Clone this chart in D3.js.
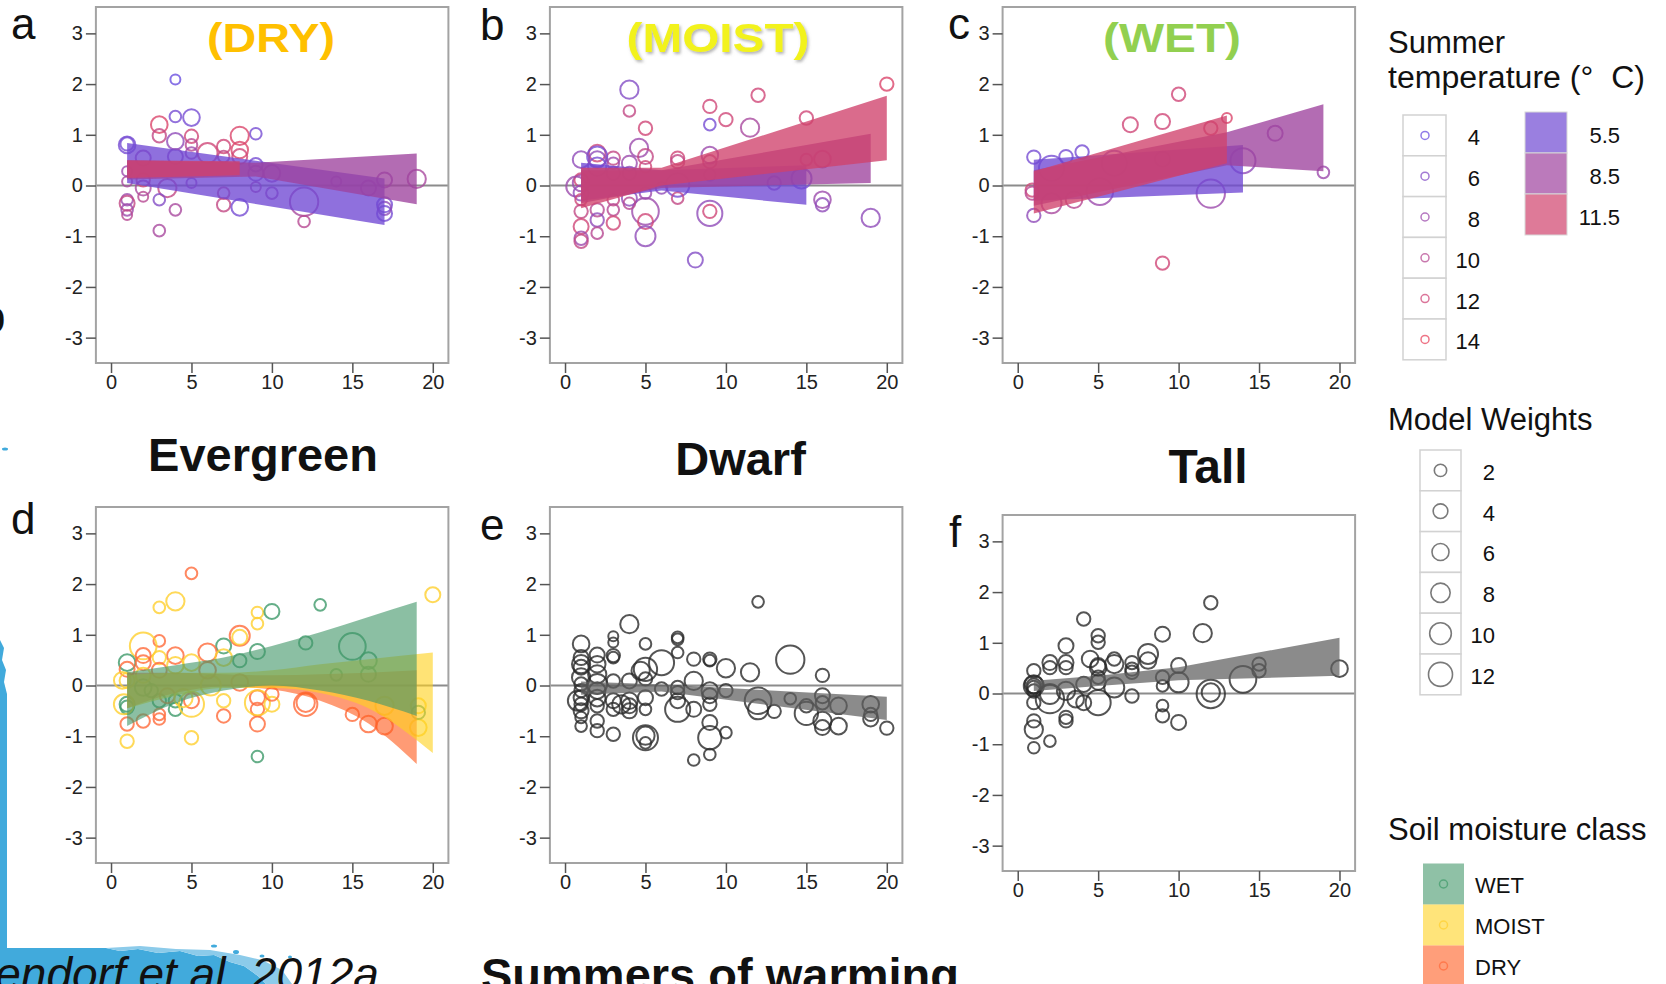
<!DOCTYPE html>
<html>
<head>
<meta charset="utf-8">
<script src="https://cdn.jsdelivr.net/npm/d3@7"></script>
<style>
  html, body { margin: 0; padding: 0; background: #fff; }
  svg { display: block; font-family: "Liberation Sans", Arial, sans-serif; }
</style>
</head>
<body>
<svg id="fig" width="1666" height="984"></svg>
<script>
// ---- tick labels ----
const xTicks = [0, 5, 10, 15, 20];
const yTicks = [-3, -2, -1, 0, 1, 2, 3];

// ---- legend keys ----
const tempLegend = [4, 6, 8, 10, 12, 14];
const bandTemps = [5.5, 8.5, 11.5];
const weightLegend = [2, 4, 6, 8, 10, 12];
const moistClasses = ["WET", "MOIST", "DRY"];

// ---- evergreen by soil moisture: [summers, effect, model weight, summer temp] ----
const dryPts = [
  [4.0,2.09,0,4],[4.0,1.36,1.4,5],[5.0,1.34,5.7,5],[3.0,1.2,5.7,13],[3.0,0.98,2.9,11],
  [9.0,1.02,1.4,5],[8.0,0.98,7.1,13],[5.0,0.97,2.9,12],[4.0,0.87,5.7,7],[1.0,0.8,5.7,5],
  [1.0,0.82,2.9,5],[5.0,0.8,1.4,10],[7.0,0.77,2.9,12],[6.0,0.64,8.6,12],[8.0,0.70,5.7,13],
  [8.0,0.57,4.3,12],[5.0,0.64,1.4,8],[2.0,0.54,4.3,8],[4.0,0.57,4.3,7],[7.0,0.57,1.4,11],
  [9.0,0.41,2.9,5],[9.0,0.24,4.3,7],[10.0,0.24,5.7,8],[1.0,0.28,0,8],[1.0,0.08,0,9],
  [2.0,0.11,2.9,12],[2.0,-0.05,4.3,9],[3.5,-0.05,7.1,11],[5.0,0.05,0,8],[14.0,0.08,0,8],
  [16.0,-0.05,4.3,8],[17.0,0.11,4.3,8],[19.0,0.13,7.1,9],[12.0,-0.32,15.7,9],[12.0,-0.71,1.4,10],
  [10.0,-0.15,1.4,8],[9.0,-0.03,0,9],[7.0,-0.15,1.4,11],[7.0,-0.38,2.9,11],[8.0,-0.43,5.7,5],
  [3.0,-0.28,1.4,6],[4.0,-0.48,1.4,9],[3.0,-0.89,1.4,9],[1.0,-0.28,1.4,8],[1.0,-0.35,4.3,11],
  [1.0,-0.48,1.4,8],[1.0,-0.58,0,10],[2.0,-0.22,0,10],[17.0,-0.38,4.3,5],[17.0,-0.55,4.3,5],
  [17.0,-0.45,2.9,7]
];
const moistPts = [
  [20.0,2.0,2.9,13],[4.0,1.89,7.1,6],[4.0,1.47,1.4,11],[12.0,1.78,2.9,12],[9.0,1.56,2.9,12],
  [5.0,1.13,2.9,12],[9.0,1.2,1.4,5],[10.0,1.3,2.9,12],[11.5,1.14,7.1,9],[15.0,1.33,2.9,12],
  [16.0,0.52,5.7,12],[15.0,0.51,1.4,12],[14.7,0.14,8.6,5],[13.0,0.05,2.9,7],[16.0,-0.28,5.7,8],
  [16.0,-0.38,2.9,7],[19.0,-0.64,7.1,7],[9.0,0.6,5.7,8],[9.0,0.47,2.9,11],[9.0,0.21,1.4,8],
  [9.0,-0.55,12.9,7],[9.0,-0.51,2.9,12],[7.0,0.54,2.9,12],[7.0,0.47,2.9,11],[7.0,0.01,11.4,5],
  [7.0,-0.25,1.4,11],[6.0,-0.05,1.4,7],[4.6,0.74,7.1,8],[5.0,0.57,4.3,11],[5.0,0.37,1.4,12],
  [5.0,-0.15,1.4,8],[5.0,-0.51,14.3,8],[5.0,-0.71,4.3,12],[5.0,-1.0,8.6,7],[4.0,0.44,4.3,8],
  [4.0,-0.25,4.3,7],[4.0,-0.35,1.4,10],[3.0,0.54,2.9,11],[3.0,0.44,1.4,8],[3.0,0.24,2.9,9],
  [3.0,-0.28,1.4,11],[3.0,-0.48,1.4,10],[3.0,-0.74,2.9,12],[2.0,0.64,5.7,12],[2.0,0.57,8.6,5],
  [2.0,0.51,5.7,7],[2.0,0.37,7.1,5],[2.0,-0.48,2.9,10],[2.0,-0.68,2.9,7],[2.0,-0.94,1.4,10],
  [1.0,0.51,5.7,7],[1.0,0.05,5.7,8],[1.0,0.11,2.9,12],[0.7,-0.02,8.6,8],[1.0,-0.15,4.3,7],
  [1.0,-0.28,1.4,12],[1.0,-0.51,2.9,11],[1.0,-0.81,4.3,12],[1.0,-1.04,2.9,8],[1.0,-1.1,2.9,11],
  [8.1,-1.47,4.3,6],[4.0,0.24,2.9,7]
];
const wetPts = [
  [10.0,1.8,2.9,12],[7.0,1.2,4.3,12],[9.0,1.26,4.3,12],[13.0,1.33,0,13],[12.0,1.13,2.9,12],
  [16.0,1.03,4.3,8],[19.0,0.26,1.4,8],[14.0,0.49,12.9,7],[12.0,-0.16,15.7,8],[9.0,0.52,4.3,9],
  [6.0,0.44,12.9,6],[5.1,-0.12,14.3,8],[4.0,0.66,2.9,5],[3.0,0.57,2.9,5],[3.5,-0.28,5.7,10],
  [2.1,0.34,12.9,5],[2.1,-0.35,8.6,9],[1.0,0.56,2.9,5],[0.9,-0.09,2.9,12],[0.9,-0.15,2.9,10],
  [1.0,-0.59,2.9,7],[9.0,-1.53,2.9,12]
];

// fitted intervals at 5.5 / 8.5 / 11.5 °C: summers, lower, upper
const dryBands = [
  { t: 5.5,  x: [1, 17],    lo: [0.05, -0.78],      hi: [0.84, 0.14] },
  { t: 8.5,  x: [1, 9, 19], lo: [0.12, 0.18, -0.37], hi: [0.5, 0.45, 0.63] },
  { t: 11.5, x: [1, 8],     lo: [0.15, 0.2],        hi: [0.5, 0.48] }
];
const moistBands = [
  { t: 5.5,  x: [1, 6, 15], lo: [-0.3, -0.1, -0.38], hi: [0.45, 0.3, 0.4] },
  { t: 8.5,  x: [1, 6, 19], lo: [-0.35, -0.05, 0.05], hi: [0.3, 0.3, 1.02] },
  { t: 11.5, x: [1, 6, 20], lo: [-0.45, 0.0, 0.5],   hi: [0.35, 0.35, 1.77] }
];
const wetBands = [
  { t: 5.5,  x: [1, 14],     lo: [-0.3, -0.14],      hi: [0.51, 0.8] },
  { t: 8.5,  x: [1, 13, 19], lo: [-0.4, 0.4, 0.28],  hi: [0.3, 1.05, 1.6] },
  { t: 11.5, x: [1, 13],     lo: [-0.55, 0.44],      hi: [0.28, 1.38] }
];

// ---- growth forms: [summers, effect, model weight(, soil class)] ----
const evergreenPts = [
  [5.0,2.21,1.4,"DRY"],[4.0,1.66,7.1,"MOIST"],[3.0,1.54,1.4,"MOIST"],[9.1,1.44,1.4,"MOIST"],
  [9.1,1.22,1.4,"MOIST"],[10.0,1.46,4.3,"WET"],[13.0,1.59,1.4,"WET"],[20.0,1.79,4.3,"MOIST"],
  [3.0,0.88,1.4,"DRY"],[2.0,0.78,14.3,"MOIST"],[2.0,0.59,4.3,"DRY"],[8.0,0.98,8.6,"DRY"],
  [8.0,0.95,4.3,"MOIST"],[12.1,0.84,2.9,"WET"],[15.0,0.77,14.3,"WET"],[16.0,0.49,5.7,"WET"],
  [14.0,0.21,1.4,"WET"],[16.0,0.22,4.3,"WET"],[9.1,0.67,4.3,"WET"],[7.0,0.78,4.3,"WET"],
  [6.0,0.65,7.1,"DRY"],[8.0,0.49,2.9,"WET"],[1.0,0.45,5.7,"WET"],[1.0,0.32,4.3,"DRY"],
  [4.0,0.59,5.7,"DRY"],[5.0,0.45,5.7,"MOIST"],[3.0,0.55,2.9,"MOIST"],[1.0,-0.37,4.3,"WET"],
  [1.0,-0.43,2.9,"WET"],[1.0,-0.76,2.9,"DRY"],[1.0,-1.1,2.9,"MOIST"],[0.8,-0.37,8.6,"MOIST"],
  [2.0,-0.7,2.9,"DRY"],[3.0,-0.3,2.9,"WET"],[3.0,-0.57,1.4,"DRY"],[3.0,-0.66,1.4,"DRY"],
  [4.0,-0.3,2.9,"WET"],[4.0,-0.47,2.9,"WET"],[5.0,-0.37,12.9,"MOIST"],[5.0,-0.3,4.3,"DRY"],
  [5.0,-1.03,2.9,"MOIST"],[7.0,-0.3,2.9,"MOIST"],[7.0,-0.6,2.9,"DRY"],[9.1,-0.24,4.3,"DRY"],
  [9.1,-0.47,2.9,"DRY"],[9.1,-0.76,4.3,"DRY"],[9.1,-0.34,12.9,"MOIST"],[9.1,-1.4,1.4,"WET"],
  [10.0,-0.37,4.3,"MOIST"],[10.0,-0.17,2.9,"DRY"],[12.1,-0.34,7.1,"DRY"],[12.1,-0.37,11.4,"DRY"],
  [16.0,-0.76,5.7,"DRY"],[17.0,-0.8,5.7,"DRY"],[17.0,-0.4,7.1,"MOIST"],[19.1,-0.4,4.3,"MOIST"],
  [19.1,-0.83,5.7,"MOIST"],[19.1,-0.53,2.9,"WET"],[15.0,-0.57,2.9,"DRY"],[6.2,0.0,8.6,"MOIST"],
  [2.0,-0.04,5.7,"WET"],[8.0,0.06,5.7,"DRY"],[2.0,0.45,4.3,"DRY"],[3.0,0.3,4.3,"DRY"],
  [4.0,0.4,5.7,"MOIST"],[1.0,0.1,4.3,"MOIST"],[2.0,0.2,4.3,"MOIST"],[6.0,0.3,5.7,"DRY"],
  [7.0,0.55,5.7,"MOIST"],[3.5,-0.2,4.3,"DRY"],[4.5,-0.25,7.1,"MOIST"],[0.7,0.1,5.7,"MOIST"],
  [2.5,-0.1,2.9,"WET"]
];
const evergreenBands = [
  { c: "DRY",   x: [1, 4, 7, 10, 13, 16, 19], lo: [-0.45, -0.15, -0.02, -0.08, -0.3, -0.75, -1.55], hi: [0.25, 0.25, 0.22, 0.2, 0.22, 0.25, 0.3] },
  { c: "MOIST", x: [1, 4, 7, 10, 13, 16, 20], lo: [-0.45, -0.2, -0.05, -0.05, -0.15, -0.45, -1.33], hi: [0.2, 0.25, 0.25, 0.3, 0.42, 0.52, 0.65] },
  { c: "WET",   x: [1, 4, 7, 10, 13, 16, 19], lo: [-0.8, -0.35, -0.1, 0.0, -0.1, -0.3, -0.6], hi: [0.26, 0.4, 0.55, 0.78, 1.05, 1.35, 1.65] }
];
const dwarfPts = [
  [12.0,1.65,1.4],[4.0,1.21,7.1],[1.0,0.82,5.7],[3.0,0.97,0],[3.0,0.85,0],[3.0,0.59,2.9],
  [3.0,0.55,1.4],[7.0,0.95,1.4],[7.0,0.91,1.4],[7.0,0.65,1.4],[5.0,0.82,1.4],[6.0,0.45,12.9],
  [5.0,0.32,11.4],[4.7,0.29,7.1],[5.0,0.13,2.9],[8.0,0.52,2.9],[9.0,0.52,2.9],[9.0,0.49,1.4],
  [10.0,0.34,7.1],[11.5,0.26,7.1],[14.0,0.51,15.7],[16.0,0.2,2.9],[8.0,0.09,7.1],[1.0,0.42,7.1],
  [1.0,0.36,4.3],[1.0,0.16,7.1],[1.0,0.03,2.9],[1.0,-0.1,2.9],[1.0,-0.24,4.3],[0.8,-0.3,8.6],
  [1.0,-0.37,2.9],[1.0,-0.63,1.4],[1.0,-0.8,1.4],[2.0,0.42,5.7],[2.0,0.22,7.1],[2.0,0.03,8.6],
  [2.0,-0.4,2.9],[2.0,-0.7,2.9],[2.0,-0.89,2.9],[3.0,-0.3,4.3],[3.0,-0.47,2.9],[3.0,-0.96,2.9],
  [3.5,-0.37,7.1],[4.0,-0.3,5.7],[4.0,-0.4,4.3],[5.0,-0.24,4.3],[5.0,-0.47,1.4],[5.0,-1.03,12.9],
  [5.0,-0.99,7.1],[5.0,-1.13,1.4],[6.0,-0.07,2.9],[7.0,-0.04,2.9],[7.0,-0.14,2.9],[7.0,-0.3,4.3],
  [7.0,-0.47,12.9],[8.0,-0.47,4.3],[8.0,-1.47,1.4],[9.0,-0.1,5.7],[9.0,-0.2,4.3],[9.0,-0.37,2.9],
  [9.0,-0.73,4.3],[9.0,-1.03,11.4],[9.0,-1.36,1.4],[10.0,-0.1,2.9],[10.0,-0.93,1.4],[12.0,-0.3,14.3],
  [12.0,-0.47,8.6],[13.0,-0.51,2.9],[14.0,-0.26,1.4],[15.0,-0.55,11.4],[15.0,-0.4,2.9],[16.0,-0.2,4.3],
  [16.0,-0.34,2.9],[16.0,-0.7,7.1],[16.0,-0.83,4.3],[17.0,-0.4,5.7],[17.0,-0.8,5.7],[19.0,-0.37,5.7],
  [19.0,-0.57,2.9],[19.0,-0.66,4.3],[20.0,-0.84,2.9],[2.0,-0.1,5.7],[3.0,0.09,2.9],[4.0,0.09,4.3],
  [1.0,0.55,4.3],[2.0,0.6,4.3],[1.0,-0.5,4.3],[2.0,-0.25,5.7],[4.0,-0.5,4.3]
];
const dwarfBand = { x: [1, 6, 20], lo: [-0.18, -0.12, -0.68], hi: [0.08, 0.02, -0.22] };
const tallPts = [
  [12.0,1.79,2.9],[4.1,1.47,2.9],[5.0,1.14,2.9],[5.0,1.01,2.9],[3.0,0.94,4.3],[9.0,1.17,4.3],
  [11.5,1.19,7.1],[8.1,0.78,8.6],[8.1,0.65,5.7],[7.1,0.61,2.9],[7.1,0.48,2.9],[7.1,0.42,2.9],
  [6.0,0.58,7.1],[5.0,0.55,4.3],[5.0,0.51,5.7],[4.5,0.68,5.7],[3.0,0.61,4.3],[3.0,0.51,2.9],
  [2.0,0.61,4.3],[2.0,0.51,2.9],[1.0,0.45,2.9],[1.0,0.18,7.1],[1.0,0.15,4.3],[1.0,0.12,2.9],
  [1.0,0.05,2.9],[1.0,-0.18,2.9],[1.0,-0.54,2.9],[1.0,-0.71,7.1],[1.0,-1.07,1.4],[2.0,-0.94,1.4],
  [2.0,-0.01,8.6],[2.0,-0.11,15.7],[3.0,0.05,7.1],[3.0,-0.47,2.9],[3.0,-0.54,2.9],[3.6,-0.11,5.7],
  [4.1,-0.18,4.3],[4.1,0.18,4.3],[5.0,-0.18,12.9],[5.0,0.32,2.9],[5.0,0.22,4.3],[6.0,0.12,8.6],
  [7.1,-0.05,2.9],[9.0,0.32,2.9],[9.0,0.15,1.4],[9.0,-0.24,1.4],[9.0,-0.44,2.9],[10.0,0.55,4.3],
  [10.0,0.22,8.6],[10.0,-0.57,4.3],[12.0,0.02,7.1],[12.0,-0.01,15.7],[14.0,0.28,14.3],[15.0,0.58,2.9],
  [15.0,0.45,2.9],[20.0,0.49,5.7],[1.0,0.15,8.6],[6.0,0.68,2.9]
];
const tallBand = { x: [1, 5, 10, 20], lo: [0.05, 0.15, 0.26, 0.35], hi: [0.25, 0.35, 0.52, 1.1] };

// ---- scales shared by all panels ----
const W = 352.5, H = 356;
const x = d3.scaleLinear().domain([-0.94, 20.97]).range([0, W]);
const y = d3.scaleLinear().domain([-3.5, 3.52]).range([H, 0]);
const rad = d3.scaleLinear().domain([0, 12]).range([5, 12]);
const tempColor = d3.scaleLinear().domain([4, 14]).range(["#6a4fe0", "#e8455e"]);
const bandColor = d3.scaleOrdinal().domain(bandTemps).range(["#6f48d3", "#9e429e", "#d0416c"]);
const classStroke = d3.scaleOrdinal().domain(moistClasses).range(["#3f9a6a", "#ffcf2e", "#ff6a3a"]);
const classFill = d3.scaleOrdinal().domain(moistClasses).range(["#44986a", "#ffd221", "#ff5d21"]);

const svg = d3.select("#fig");
const defs = svg.append("defs");
defs.append("filter").attr("id", "shade").attr("x", "-10%").attr("y", "-10%").attr("width", "130%").attr("height", "140%")
  .append("feDropShadow").attr("dx", 1.5).attr("dy", 2).attr("stdDeviation", 1.5)
  .attr("flood-color", "#777").attr("flood-opacity", 0.55);

// background decoration along the lower-left edge
const deco = svg.append("g").attr("fill", "#41aadc");
deco.append("path").attr("d",
  "M0,640 L4,648 L2,660 L6,670 L4,682 L7,694 L7,948 L106,948 L120,951 L138,949 L158,953 L180,951 " +
  "L198,956 L214,955 L230,962 L244,966 L258,976 L266,984 L0,984 Z");
deco.append("path").attr("fill", "#8ccbea").attr("d",
  "M106,948 L140,946 L176,949 L210,950 L240,955 L262,960 L282,970 L292,984 L266,984 L258,976 L244,966 L230,962 L214,955 L198,956 L180,951 L158,953 L138,949 L120,951 Z");
[[5, 449, 3, 1.5], [236, 952, 3, 2], [262, 956, 2.5, 1.5], [290, 957, 2, 1.5], [214, 946, 3, 1.5]]
  .forEach(e => deco.append("ellipse").attr("cx", e[0]).attr("cy", e[1]).attr("rx", e[2]).attr("ry", e[3]));

const area = (curve) => d3.area()
  .x(d => x(d[0])).y0(d => y(d[1])).y1(d => y(d[2])).curve(curve);

function styleAxis(g) {
  g.attr("font-family", null).attr("font-size", null);
  g.select(".domain").remove();
  g.selectAll(".tick line").attr("stroke", "#555").attr("stroke-width", 1.5);
  g.selectAll(".tick text").attr("fill", "#222").style("font-size", "20px");
}

function panel(left, top, pts, bands, strokeOf, fillOf, bandOpacity, curve) {
  const g = svg.append("g").attr("transform", `translate(${left},${top})`);
  g.append("line").attr("x1", 0).attr("x2", W).attr("y1", y(0)).attr("y2", y(0))
    .attr("stroke", "#8c8c8c").attr("stroke-width", 2);
  g.append("g").selectAll("circle").data(pts).join("circle")
    .attr("cx", d => x(d[0])).attr("cy", d => y(d[1])).attr("r", d => rad(d[2]))
    .attr("fill", "none").attr("stroke", d => strokeOf(d[3]))
    .attr("stroke-width", 2).attr("stroke-opacity", 0.8);
  const bandArea = area(curve);
  g.append("g").selectAll("path").data(bands).join("path")
    .attr("d", b => bandArea(d3.zip(b.x, b.lo, b.hi)))
    .attr("fill", b => fillOf(b.t !== undefined ? b.t : b.c))
    .attr("fill-opacity", bandOpacity);
  g.append("rect").attr("width", W).attr("height", H).attr("fill", "none")
    .attr("stroke", "#a3a3a3").attr("stroke-width", 2);
  g.append("g").attr("transform", `translate(0,${H})`)
    .call(d3.axisBottom(x).tickValues(xTicks).tickSize(10).tickPadding(2).tickFormat(d => String(d)))
    .call(styleAxis);
  g.append("g")
    .call(d3.axisLeft(y).tickValues(yTicks).tickSize(10).tickPadding(3).tickFormat(d => String(d)))
    .call(styleAxis);
  return g;
}

panel(95.9, 7, dryPts, dryBands, tempColor, bandColor, 0.78, d3.curveLinear);
panel(549.9, 7, moistPts, moistBands, tempColor, bandColor, 0.78, d3.curveLinear);
panel(1002.6, 7, wetPts, wetBands, tempColor, bandColor, 0.78, d3.curveLinear);
panel(95.9, 507, evergreenPts, evergreenBands, classStroke, classFill, 0.62, d3.curveMonotoneX);
panel(549.9, 507, dwarfPts, [dwarfBand], () => "#2a2a2a", () => "#5e5e5e", 0.72, d3.curveLinear);
panel(1002.6, 515, tallPts, [tallBand], () => "#2a2a2a", () => "#5e5e5e", 0.72, d3.curveLinear);

// ---- panel letters ----
[["a", 11, 39], ["b", 480, 40], ["c", 948, 39], ["d", 11, 534], ["e", 480, 540], ["f", 949, 547], ["b", -19, 332]]
  .forEach(([t, px, py]) => svg.append("text").attr("x", px).attr("y", py)
    .attr("font-size", 44).attr("fill", "#111").text(t));

// ---- moisture class titles ----
const heads = [
  { t: "(DRY)", cx: 271, len: 128, fill: "#ffc000" },
  { t: "(MOIST)", cx: 718, len: 183, fill: "#f2f21c", shade: true },
  { t: "(WET)", cx: 1172, len: 138, fill: "#92d050" }
];
heads.forEach(h => {
  const el = svg.append("text").attr("x", h.cx).attr("y", 52).attr("text-anchor", "middle")
    .attr("font-size", 40).attr("font-weight", "bold").attr("fill", h.fill)
    .attr("textLength", h.len).attr("lengthAdjust", "spacingAndGlyphs").text(h.t);
  if (h.shade) el.attr("filter", "url(#shade)");
});

// ---- growth form titles ----
[["Evergreen", 263, 471, 47], ["Dwarf", 740.5, 474.5, 47], ["Tall", 1208, 483, 48]]
  .forEach(([t, cx, by, fs]) => svg.append("text").attr("x", cx).attr("y", by)
    .attr("text-anchor", "middle").attr("font-size", fs).attr("font-weight", "bold")
    .attr("fill", "#111").text(t));

svg.append("text").attr("x", 481).attr("y", 991).attr("font-size", 47).attr("font-weight", "bold")
  .attr("fill", "#111").text("Summers of warming");
svg.append("text").attr("x", -84).attr("y", 990).attr("font-size", 46).attr("font-style", "italic")
  .attr("fill", "#111").text("Elmendorf et al. 2012a");

// ---- legend: summer temperature ----
const lg = svg.append("g");
lg.append("text").attr("x", 1388).attr("y", 53).attr("font-size", 31).attr("fill", "#111").text("Summer");
lg.append("text").attr("x", 1388).attr("y", 88).attr("font-size", 31).attr("fill", "#111")
  .style("white-space", "pre").attr("textLength", 257).attr("lengthAdjust", "spacingAndGlyphs")
  .text("temperature (°  C)");

const boxH = 40.8;
const tk = lg.append("g").selectAll("g").data(tempLegend).join("g")
  .attr("transform", (d, i) => `translate(1403,${115 + i * boxH})`);
tk.append("rect").attr("width", 43).attr("height", boxH).attr("fill", "#fff")
  .attr("stroke", "#d2d2d2").attr("stroke-width", 1.5);
tk.append("circle").attr("cx", 22).attr("cy", boxH / 2).attr("r", 4).attr("fill", "none")
  .attr("stroke", d => tempColor(d)).attr("stroke-width", 1.5).attr("stroke-opacity", 0.75);
tk.append("text").attr("x", 77).attr("y", boxH / 2 + 10).attr("text-anchor", "end")
  .attr("font-size", 22).attr("fill", "#111").text(d => d);

const sw = lg.append("g").selectAll("g").data(bandTemps).join("g")
  .attr("transform", (d, i) => `translate(1525,${112 + i * 41})`);
sw.append("rect").attr("width", 42).attr("height", 41).attr("fill", d => bandColor(d))
  .attr("fill-opacity", 0.7).attr("stroke", "#d8d8d8").attr("stroke-width", 1);
sw.append("text").attr("x", 95).attr("y", 31).attr("text-anchor", "end")
  .attr("font-size", 22).attr("fill", "#111").text(d => d);

// ---- legend: model weights ----
lg.append("text").attr("x", 1388).attr("y", 430).attr("font-size", 31).attr("fill", "#111").text("Model Weights");
const wk = lg.append("g").selectAll("g").data(weightLegend).join("g")
  .attr("transform", (d, i) => `translate(1420,${450 + i * boxH})`);
wk.append("rect").attr("width", 41).attr("height", boxH).attr("fill", "#fff")
  .attr("stroke", "#d2d2d2").attr("stroke-width", 1.5);
wk.append("circle").attr("cx", 20.5).attr("cy", boxH / 2).attr("r", d => rad(d)).attr("fill", "none")
  .attr("stroke", "#7a7a7a").attr("stroke-width", 1.6);
wk.append("text").attr("x", 75).attr("y", boxH / 2 + 9.5).attr("text-anchor", "end")
  .attr("font-size", 22).attr("fill", "#111").text(d => d);

// ---- legend: soil moisture class ----
lg.append("text").attr("x", 1388).attr("y", 840).attr("font-size", 31).attr("fill", "#111").text("Soil moisture class");
const ck = lg.append("g").selectAll("g").data(moistClasses).join("g")
  .attr("transform", (d, i) => `translate(1423,${863.5 + i * 41})`);
ck.append("rect").attr("width", 41).attr("height", 41).attr("fill", d => classFill(d)).attr("fill-opacity", 0.6);
ck.append("circle").attr("cx", 20.5).attr("cy", 20.5).attr("r", 4).attr("fill", "none")
  .attr("stroke", d => classStroke(d)).attr("stroke-width", 1.5).attr("stroke-opacity", 0.7);
ck.append("text").attr("x", 52).attr("y", 29).attr("font-size", 22).attr("fill", "#111").text(d => d);
</script>
</body>
</html>
